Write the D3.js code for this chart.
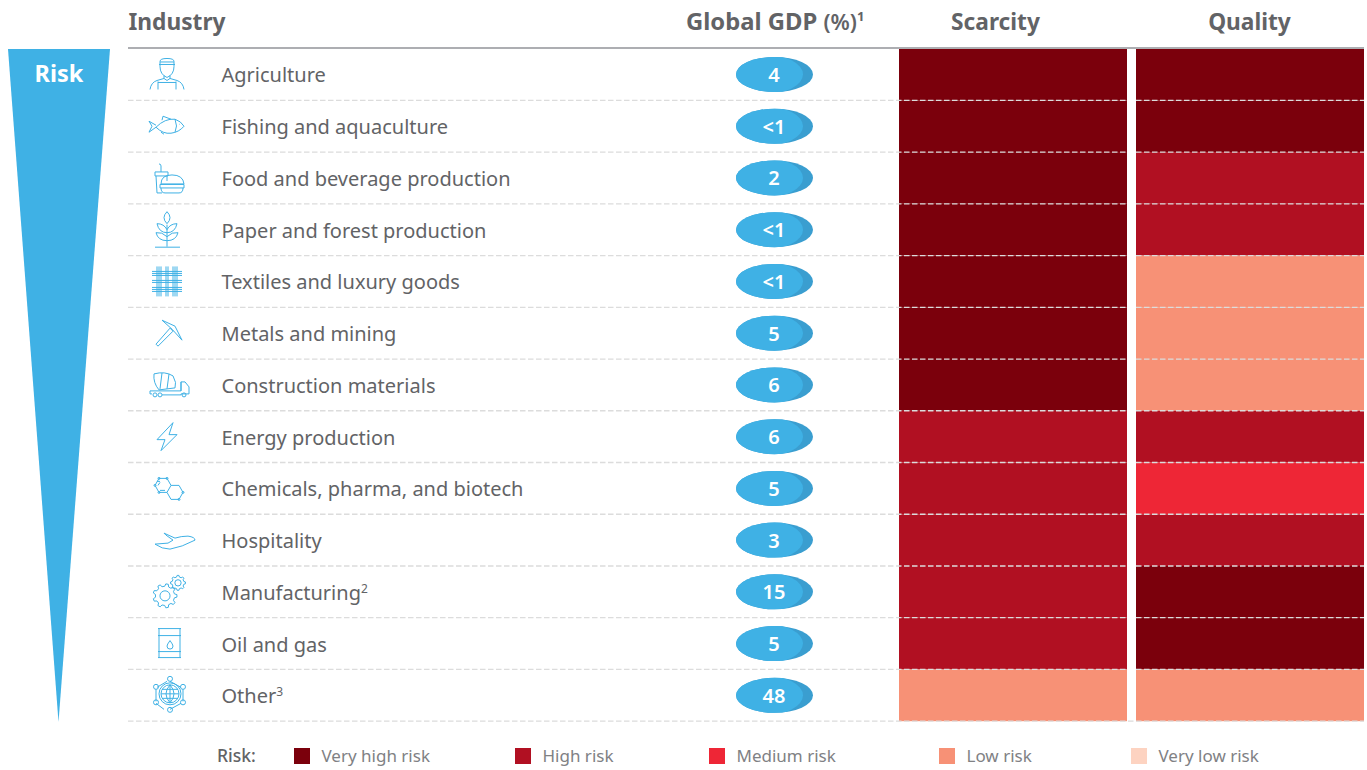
<!DOCTYPE html>
<html>
<head>
<meta charset="utf-8">
<script src="https://cdn.jsdelivr.net/npm/d3@7"></script>
<style>
  html, body { margin: 0; padding: 0; background: #fff; overflow: hidden; }
  svg { display: block; font-family: "Noto Sans", sans-serif; }
</style>
</head>
<body>
<svg id="chart" width="1367" height="770"></svg>
<script>
// Water risk by industry
const industries = ["Agriculture", "Fishing and aquaculture", "Food and beverage production",
  "Paper and forest production", "Textiles and luxury goods", "Metals and mining",
  "Construction materials", "Energy production", "Chemicals, pharma, and biotech",
  "Hospitality", "Manufacturing", "Oil and gas", "Other"];
const footnotes = ["", "", "", "", "", "", "", "", "", "", "2", "", "3"];
const gdpShare = ["4", "<1", "2", "<1", "<1", "5", "6", "6", "5", "3", "15", "5", "48"];
const riskLevels = ["Very high risk", "High risk", "Medium risk", "Low risk", "Very low risk"];
const riskColors = ["#7b000c", "#b11022", "#ee2636", "#f79176", "#fdd3c1"];
const scarcity = ["Very high risk", "Very high risk", "Very high risk", "Very high risk", "Very high risk",
  "Very high risk", "Very high risk", "High risk", "High risk", "High risk", "High risk", "High risk", "Low risk"];
const quality = ["Very high risk", "Very high risk", "High risk", "High risk", "Low risk",
  "Low risk", "Low risk", "High risk", "Medium risk", "High risk", "Very high risk", "Very high risk", "Low risk"];
const riskColumns = [["Scarcity", scarcity], ["Quality", quality]];

// Outline of a cog with the given centre, radius and tooth count
function cog(cx, cy, r, teeth) {
  const pts = [];
  const step = Math.PI * 2 / teeth;
  for (let k = 0; k < teeth; k++) {
    const a = k * step;
    [[-0.3, r * 0.8], [-0.15, r], [0.15, r], [0.3, r * 0.8]].forEach(([o, rad]) => {
      pts.push([cx + rad * Math.cos(a + o * step), cy + rad * Math.sin(a + o * step)]);
    });
  }
  const hole = r * 0.42;
  return d3.line()(pts) + `ZM${cx - hole},${cy}a${hole},${hole} 0 1 0 ${hole * 2},0a${hole},${hole} 0 1 0 ${-hole * 2},0`;
}
// Small circle used by the molecule and network icons
const dot = (x, y, r) => `M${x - r},${y}a${r},${r} 0 1 0 ${r * 2},0a${r},${r} 0 1 0 ${-r * 2},0`;

// Line icons, drawn around the centre of each row
const icons = [
  "M-7,-8V-13Q-7,-16 0,-16Q7,-16 7,-13V-8M-8,-10H8M-7,-12.5H7M-7,-8Q-7,0 0,3Q7,0 7,-8M-3,1V4L0,6L3,4V1M-17,15Q-16,8 -10,6L-3,4M17,15Q16,8 10,6L3,4M-9,15V7M9,15V7M-9,8H9",
  "M-11,1Q-2,-8 8,-7Q14,-5 17,0Q12,6 4,7Q-4,8 -11,1L-18,6L-15,0L-18,-5L-11,-1M8,-7Q11,0 8,6M-5,-6L-4,-10L4,-7M-6,6L-3,8M12,-2h.5",
  "M-12,-6H1V-2H-12ZM-6,-6V-12Q-6,-14 -8,-14M-11,-2L-10,15H-5M0,-2V3M-6,6Q-6,-3 5,-3Q16,-3 17,6ZM-7,6.5H17V10H-7ZM-6,10Q-6,15 -2,15H12Q16,15 16,10",
  "M0,17V-5M-12,17.5H13M0,-6Q-6,-12 0,-18Q6,-12 0,-6ZM0,3Q-8,3 -10,-6Q-3,-6 0,0M0,3Q8,3 10,-6Q3,-6 0,0M0,11Q-9,11 -11,3Q-5,2 0,7M0,11Q9,11 11,3Q5,2 0,7",
  "M-15,-10H15M-15,-8H15M-15,-6H15M-15,-1H15M-15,1H15M-15,6H15M-15,8H15M-15,10H15M-10,-15V15M-8,-15V15M-6,-15V15M-1,-15V15M1,-15V15M6,-15V15M8,-15V15M10,-15V15",
  "M-11,11L3,-5L6,-2L-9,13ZM-5,-13L8,-7L15,7L5,-4Z",
  "M-13,-11Q-2,-14 6,-9Q10,-2 8,3L-8,5Q-14,-2 -13,-11M-5,-12L-7,4M2,-11L0,4M-17,6H14V-3H18L22,2V9H14V10H-5M14,-3V6M-17,6V9H-15"
    + dot(-12, 10, 2) + dot(-7, 10, 2) + dot(17, 10, 2),
  "M6,-14L-10,3H-2L-6,14L10,-2H2Z",
  "M-8,-10H0L4,-3L0,4H-8L-12,-3ZM-10,-7L-7,-7M4,-3H12L16,4L12,11H4L0,4M-7,2H-2M-9,-3L-7,-6"
    + dot(-8, -10, 1) + dot(0, -10, 1) + dot(-8, 4, 1) + dot(12, 11, 1) + dot(16, 4, 1) + dot(-12, -3, 1),
  "M-12,4Q-5,9 3,9Q15,7 28,0Q28,-3 21,-4Q14,-4 8,-2L-3,-7L-1,-5L6,0L1,3L-12,4",
  cog(-2, 4, 12, 9) + cog(11, -9, 7.5, 8),
  "M-9,-15H14M-9,-8H14M-9,8H14M-9,14H14M-8,-15V14M13,-15V14M3,-3Q0,1 0,2.5A3,3 0 0 0 6,2.5Q6,1 3,-3Z",
  dot(3, -1.5, 11) + dot(3, -1.5, 9) + "M3,-10.5V7.5M-6,-1.5H12M-5,-6H11M-5,3H11M3,-10.500Q-5,-1.500 3,7.500M3,-10.500Q11,-1.500 3,7.500"
    + "M3,-14L14,-8M16,-6V6M14,8L3,14M-3,14L-11,8M-11,6V-6M-10,-8L0,-14"
    + dot(3, -16.5, 2.5) + dot(16, -8.5, 2.5) + dot(16, 7, 2.5) + dot(3, 14.5, 2.5) + dot(-11, 7, 2.5) + dot(-11, -8.5, 2.5)
];

const width = 1367, height = 770;
const textGrey = "#626366";
const blue = "#3fb1e5";
const tableLeft = 128, tableRight = 1364;

const svg = d3.select("#chart");

// Rows and the two risk columns
const y = d3.scaleBand().domain(industries).range([48.6, 721.2]);
const colX = d3.scaleOrdinal().domain(["Scarcity", "Quality"]).range([899, 1136]);
const colWidth = 228;
const riskColor = d3.scaleOrdinal().domain(riskLevels).range(riskColors);

// Tapered risk indicator
const funnel = d3.line();
svg.append("path")
  .attr("d", funnel([[8, 49], [110, 49], [58.5, 722]]) + "Z")
  .attr("fill", blue);
svg.append("text")
  .attr("x", 59).attr("y", 82)
  .attr("text-anchor", "middle")
  .attr("font-size", 23.5).attr("font-weight", 700).attr("fill", "#fff")
  .text("Risk");

// Heat cells
riskColumns.forEach(([name, values]) => {
  svg.append("g").selectAll("rect").data(values).join("rect")
    .attr("x", colX(name))
    .attr("y", (d, i) => y(industries[i]))
    .attr("width", colWidth)
    .attr("height", y.bandwidth())
    .attr("fill", d => riskColor(d));
});

// Column headers
const headers = [["Industry", 128.5, "start"], ["Scarcity", 995.5, "middle"], ["Quality", 1249.5, "middle"]];
svg.append("g").selectAll("text").data(headers).join("text")
  .attr("x", d => d[1]).attr("y", 30)
  .attr("text-anchor", d => d[2])
  .attr("font-size", 22.7).attr("font-weight", 700).attr("fill", textGrey)
  .text(d => d[0]);
const gdpHead = svg.append("text")
  .attr("x", 686).attr("y", 30)
  .attr("font-size", 23.8).attr("font-weight", 700).attr("fill", textGrey);
gdpHead.append("tspan").text("Global GDP ");
gdpHead.append("tspan").attr("font-size", 22).attr("font-weight", 600).text("(%)");
gdpHead.append("tspan").attr("font-size", 13).attr("dy", -9).text("1");

svg.append("line")
  .attr("x1", tableLeft).attr("x2", tableRight)
  .attr("y1", 48).attr("y2", 48)
  .attr("stroke", "#adaeb2").attr("stroke-width", 2);

// Row separators
svg.append("g").selectAll("line").data(industries).join("line")
  .attr("x1", tableLeft).attr("x2", tableRight)
  .attr("y1", d => y(d) + y.bandwidth())
  .attr("y2", d => y(d) + y.bandwidth())
  .attr("stroke", "#dcdcdc").attr("stroke-width", 1.3)
  .attr("stroke-dasharray", "5.5 2.5");

// Gap between the two risk columns
svg.append("rect")
  .attr("x", 1127).attr("y", 49).attr("width", 9).attr("height", 671)
  .attr("fill", "#fff");

// Industry rows
const rows = svg.append("g").selectAll("g").data(industries).join("g")
  .attr("transform", d => `translate(0,${y(d) + y.bandwidth() / 2})`);

rows.append("path")
  .attr("transform", "translate(167,0)")
  .attr("d", (d, i) => icons[i])
  .attr("fill", "none").attr("stroke", blue).attr("stroke-width", 1);

const labels = rows.append("text")
  .attr("x", 221.5).attr("y", 8)
  .attr("font-size", 20).attr("fill", textGrey);
labels.append("tspan").text(d => d);
labels.append("tspan")
  .attr("font-size", 12).attr("dy", -7)
  .text((d, i) => footnotes[i]);

// GDP share pills with a shaded right edge
const defs = svg.append("defs");
defs.append("clipPath").attr("id", "pill")
  .append("ellipse").attr("cx", 774.5).attr("cy", 0).attr("rx", 38.5).attr("ry", 17.5);
const pills = rows.append("g").attr("clip-path", "url(#pill)");
pills.append("rect")
  .attr("x", 735).attr("y", -18).attr("width", 79).attr("height", 36)
  .attr("fill", "#3a9ed0");
pills.append("ellipse")
  .attr("cx", 764).attr("cy", 0).attr("rx", 39).attr("ry", 20)
  .attr("fill", blue);
rows.append("text")
  .attr("x", 774).attr("y", 7.5)
  .attr("text-anchor", "middle")
  .attr("font-size", 20).attr("font-weight", 600).attr("fill", "#fff")
  .text((d, i) => gdpShare[i]);

// Legend
const legendSwatchX = [294, 515, 709, 939, 1131];
svg.append("text")
  .attr("x", 217).attr("y", 762)
  .attr("font-size", 17.5).attr("font-weight", 500).attr("fill", textGrey)
  .text("Risk:");
const legend = svg.append("g").selectAll("g").data(riskLevels).join("g")
  .attr("transform", (d, i) => `translate(${legendSwatchX[i]},748)`);
legend.append("rect")
  .attr("width", 16).attr("height", 16)
  .attr("fill", d => riskColor(d));
legend.append("text")
  .attr("x", 27.5).attr("y", 14)
  .attr("font-size", 17).attr("fill", "#808184")
  .text(d => d);
</script>
</body>
</html>
